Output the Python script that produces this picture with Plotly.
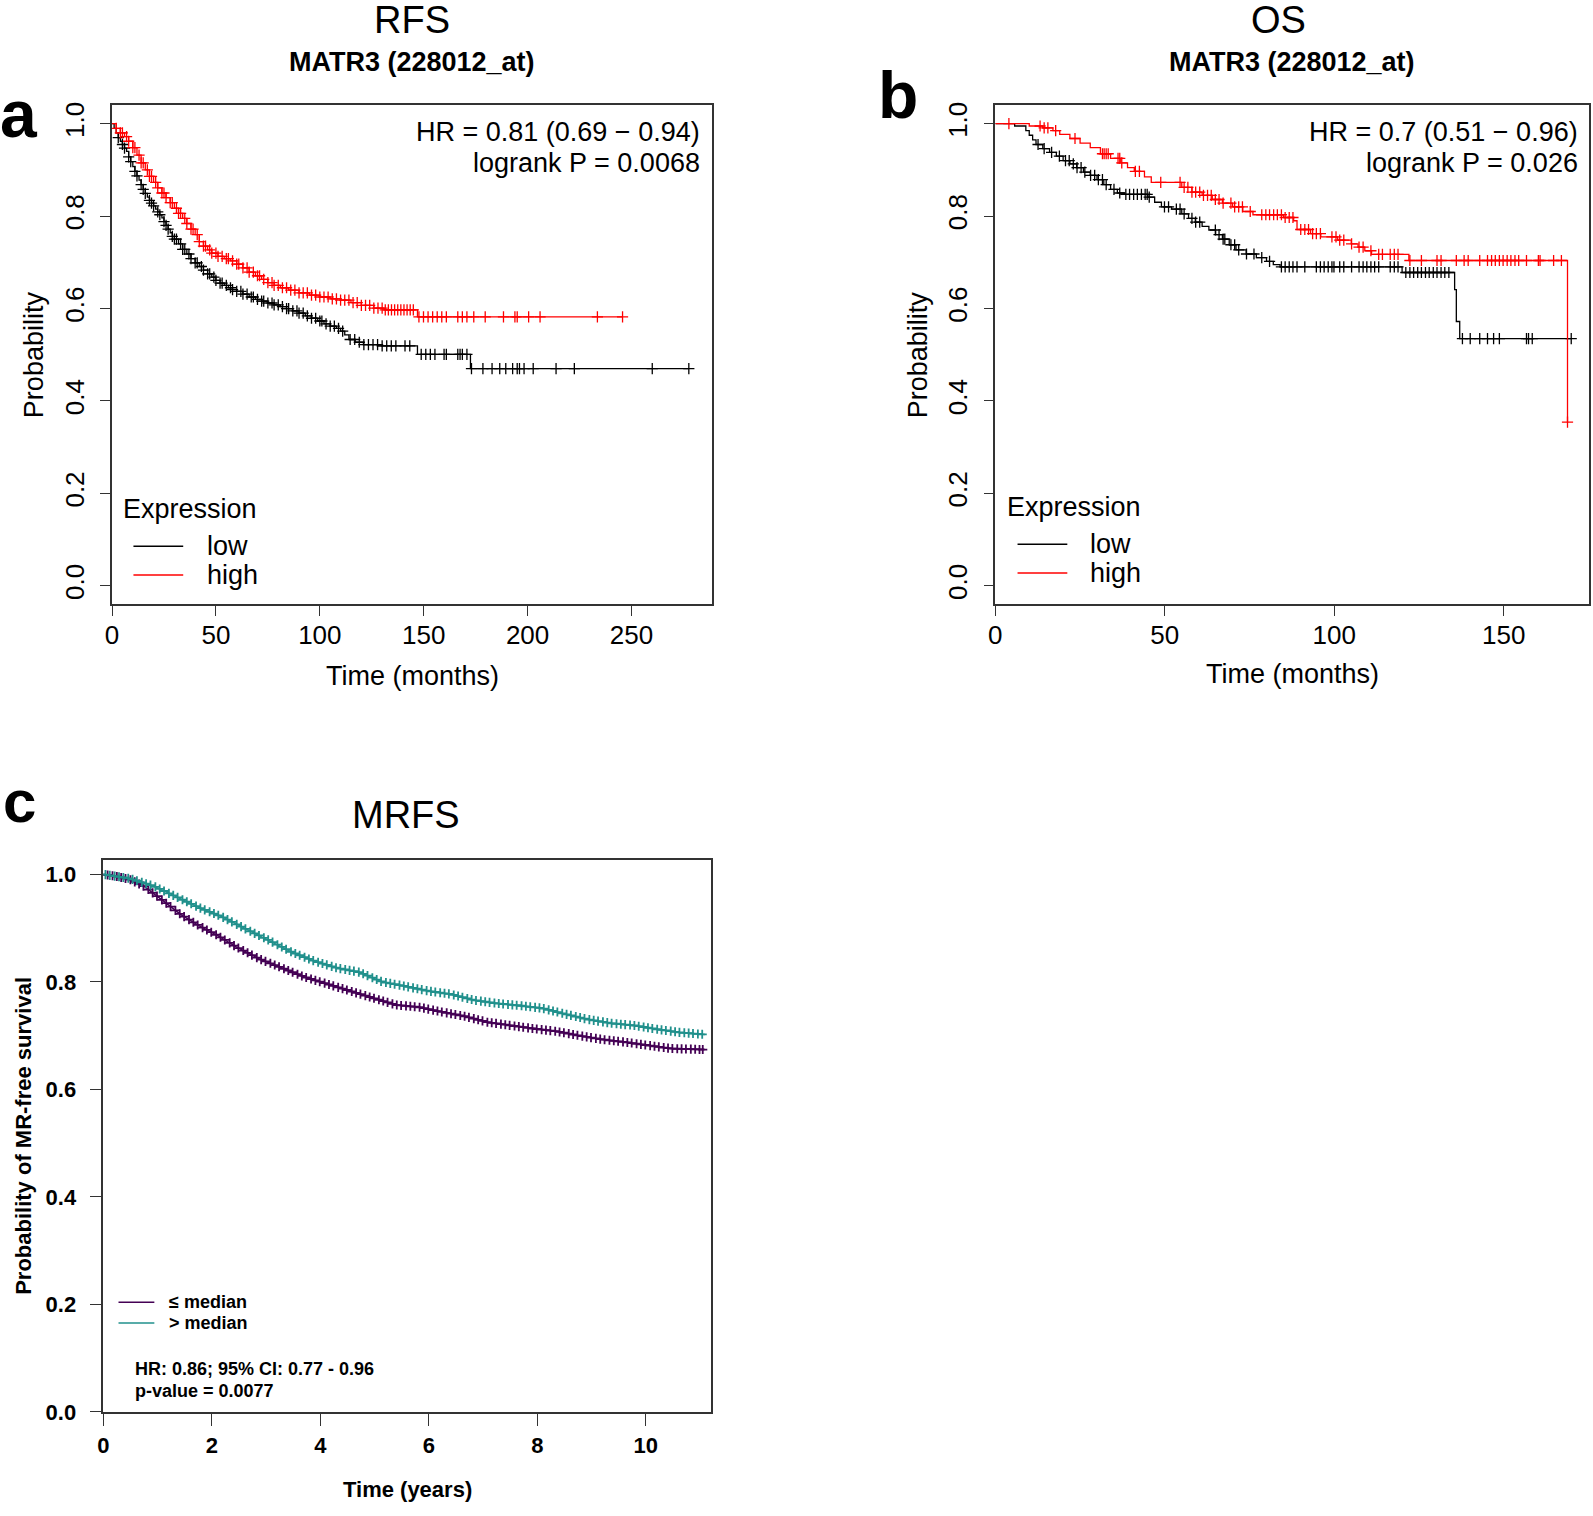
import numpy as np
import plotly.graph_objects as go

W, H = 1593, 1516
FONT = "Liberation Sans, Arial, sans-serif"

# ---------------- Panel a : RFS (months) ----------------
a_low_t = [0, 1, 2, 3, 4, 5, 6, 7, 8, 9, 10, 11, 12, 13, 14, 15, 16, 17, 18, 19, 20, 21, 22, 23, 24, 25, 26, 27, 28, 29,
           30, 32, 34, 36, 38, 40, 42, 44, 46, 48, 50, 52, 54, 56, 58, 60, 63, 66, 69, 72, 75, 78, 81, 84, 87, 90, 93,
           96, 99, 102, 105, 108, 110, 112, 114, 117, 121, 128, 147, 172.5, 277.6]
a_low_s = [1.0, 0.99, 0.98, 0.97, 0.962, 0.955, 0.947, 0.94, 0.928, 0.918, 0.907, 0.897, 0.887, 0.878, 0.868, 0.858,
           0.849, 0.841, 0.834, 0.828, 0.822, 0.815, 0.809, 0.803, 0.796, 0.788, 0.78, 0.772, 0.764, 0.756, 0.75, 0.74,
           0.728, 0.718, 0.708, 0.699, 0.691, 0.683, 0.675, 0.668, 0.661, 0.655, 0.65, 0.645, 0.641, 0.637, 0.631, 0.625,
           0.62, 0.616, 0.612, 0.608, 0.604, 0.6, 0.595, 0.59, 0.584, 0.579, 0.573, 0.567, 0.562, 0.557, 0.551, 0.543,
           0.533, 0.527, 0.522, 0.519, 0.501, 0.47, 0.47]
a_low_cens = [3, 5, 6, 8, 9, 11, 12, 14, 15, 16, 18, 19, 20, 22, 23, 25, 26, 27, 29, 30, 31, 33, 34, 35, 37, 38, 40, 41,
              43, 44, 46, 47, 49, 50, 52, 53, 55, 57, 58, 60, 62, 63, 65, 67, 68, 70, 72, 73, 75, 77, 78, 80, 82, 84, 85,
              87, 89, 90, 92, 94, 96, 98, 100, 101, 103, 105, 107, 109, 111, 114.6, 116.8, 119, 121.2, 123.4, 125.6,
              127.8, 130, 132.2, 134.4, 136.6, 141, 143.3, 148.8, 151, 153.2, 155.4, 159.8, 160.9, 166.4, 167.5, 168.6,
              170.8, 173, 178.5, 182.9, 186.6, 189.5, 192.8, 195, 196.1, 198.3, 202.7, 213.7, 222.5, 260, 277.6]

a_high_t = [0, 2, 4, 6, 8, 10, 12, 14, 16, 18, 20, 22, 24, 26, 28, 30, 32, 34, 36, 38, 40, 42, 44, 46, 48, 51, 54, 57,
            60, 63, 66, 69, 72, 75, 78, 81, 85, 90, 95, 100, 105, 110, 115, 120, 126, 131, 147, 245.7]
a_high_s = [1.0, 0.99, 0.98, 0.972, 0.962, 0.948, 0.932, 0.915, 0.9, 0.886, 0.873, 0.861, 0.85, 0.84, 0.829, 0.817,
            0.806, 0.795, 0.784, 0.772, 0.76, 0.745, 0.735, 0.727, 0.72, 0.713, 0.708, 0.703, 0.696, 0.688, 0.679, 0.671,
            0.663, 0.656, 0.65, 0.645, 0.64, 0.634, 0.629, 0.625, 0.621, 0.618, 0.613, 0.607, 0.601, 0.597, 0.582, 0.582]
a_high_cens = [2, 4, 5, 7, 8, 10, 11, 13, 14, 15, 17, 18, 19, 21, 22, 24, 25, 26, 28, 29, 31, 32, 33, 35, 36, 38, 39,
               41, 42, 44, 45, 47, 48, 50, 51, 53, 55, 56, 58, 60, 61, 63, 65, 66, 68, 70, 71, 73, 75, 77, 78, 80, 82,
               84, 86, 88, 90, 92, 94, 96, 98, 100, 102, 104, 106, 108, 110, 112, 114, 116, 118, 120, 122, 124, 126,
               128, 130, 131.5, 133, 134.5, 136, 137.5, 139, 140.5, 142, 143.5, 145, 147.7, 149.9, 152.1, 154.3, 156.5,
               158.7, 160.9, 166.4, 168.6, 170.8, 174.1, 179.6, 188.4, 193.9, 195, 200.5, 206, 233.6, 245.7]

# ---------------- Panel b : OS (months) ----------------
b_low_t = [0, 5.7, 9, 10, 11, 12, 14, 16, 18, 20, 22, 24, 26, 28, 30, 32, 34, 36, 38, 45, 47, 49, 52, 55, 57, 59, 61,
           63, 65, 67, 69, 71, 74, 77, 80, 82, 84, 120, 135.5, 136, 137, 169.9]
b_low_s = [1.0, 0.995, 0.985, 0.975, 0.965, 0.955, 0.946, 0.938, 0.93, 0.92, 0.913, 0.905, 0.895, 0.888, 0.879, 0.868,
           0.858, 0.85, 0.847, 0.841, 0.83, 0.82, 0.815, 0.805, 0.795, 0.787, 0.778, 0.77, 0.76, 0.75, 0.738, 0.727,
           0.718, 0.71, 0.702, 0.695, 0.69, 0.678, 0.641, 0.572, 0.535, 0.535]
b_low_cens = [12.6, 14.4, 16.6, 18.9, 20.7, 21.8, 23, 24.1, 25.3, 26.4, 28.1, 29.3, 30.4, 31.6, 32.7, 35, 36.7, 38.5,
              39.6, 40.8, 41.9, 43.1, 44.2, 44.8, 45.4, 49.9, 51.1, 53.4, 54.5, 55.7, 58, 59.1, 60.3, 64.9, 66, 67.2,
              67.7, 69.5, 70.6, 71.8, 74.1, 76.3, 78.6, 80.9, 84.4, 85.5, 86.7, 87.8, 89, 91.3, 94.7, 95.9, 97, 98.2,
              99.3, 99.9, 101.6, 102.8, 105.1, 107.3, 108.5, 109.6, 110.8, 111.9, 113.1, 116.5, 117.7, 118.8, 121.1,
              122.3, 123.4, 124.6, 125.7, 126.9, 128, 129.2, 130.3, 131.5, 132.6, 133.8, 137.8, 140.1, 142.9, 145.2,
              147, 148.7, 156.7, 157.3, 158.4, 169.9]

b_high_t = [0, 10, 14, 17, 19, 22, 25, 28, 31, 34, 37, 39, 41, 44, 46, 55, 58, 61, 64, 67, 70, 73, 76, 85, 88, 89, 93,
            96, 101, 105, 107, 109, 111, 122, 168.8, 168.8]
b_high_s = [1.0, 0.995, 0.991, 0.985, 0.977, 0.968, 0.958, 0.948, 0.935, 0.925, 0.915, 0.905, 0.897, 0.885, 0.873,
            0.862, 0.852, 0.845, 0.836, 0.828, 0.82, 0.81, 0.803, 0.797, 0.79, 0.771, 0.762, 0.755, 0.748, 0.74, 0.733,
            0.725, 0.717, 0.704, 0.704, 0.354]
b_high_cens = [4, 13.2, 14.4, 15.5, 17.8, 23.5, 31.6, 32.1, 32.7, 33.3, 36.2, 36.7, 37.3, 41.3, 42.5, 48.8, 54.5, 55.7,
               56.8, 58, 59.1, 60.3, 61.4, 62.6, 63.7, 64.9, 66, 67.2, 69.5, 70.6, 71.8, 72.9, 75.2, 78.6, 79.8, 80.9,
               82.1, 83.2, 84.4, 85.5, 86.7, 87.8, 90.1, 91.3, 92.4, 93.6, 94.7, 95.9, 99.3, 100.5, 101.6, 102.8, 105.1,
               107.3, 108.5, 110.8, 113.1, 114.2, 116.5, 117.7, 118.8, 122.3, 125.7, 130.3, 131.5, 136, 138.3, 139.5,
               142.9, 145.2, 146.4, 147.5, 148.7, 149.8, 151, 152.1, 153.3, 154.4, 156.7, 160.2, 160.7, 164.7, 167]
b_high_end_mark = [168.8]

# ---------------- Panel c : MRFS (years) ----------------
c_low_t = [0, 0.25, 0.5, 0.76, 1.1, 1.43, 1.77, 2.11, 2.45, 2.87, 3.29, 3.71, 4.13, 4.55, 4.97, 5.4, 5.82, 6.24, 6.66,
           7.08, 7.5, 7.93, 8.35, 8.77, 9.19, 9.61, 10.03, 10.46, 11.09]
c_low_s = [1.0, 0.996, 0.99, 0.977, 0.951, 0.925, 0.904, 0.886, 0.865, 0.843, 0.826, 0.809, 0.796, 0.783, 0.77, 0.757,
           0.753, 0.744, 0.736, 0.725, 0.719, 0.713, 0.708, 0.7, 0.693, 0.688, 0.682, 0.676, 0.674]
c_high_t = [0, 0.5, 0.93, 1.35, 1.77, 2.19, 2.61, 3.04, 3.46, 3.88, 4.3, 4.72, 5.14, 5.56, 5.99, 6.41, 6.83, 7.25, 7.67,
            8.09, 8.52, 8.94, 9.36, 9.78, 10.2, 10.62, 11.09]
c_high_s = [1.0, 0.992, 0.978, 0.958, 0.938, 0.921, 0.899, 0.878, 0.856, 0.839, 0.826, 0.818, 0.8, 0.792, 0.783, 0.777,
            0.766, 0.76, 0.756, 0.751, 0.74, 0.73, 0.723, 0.719, 0.712, 0.706, 0.702]
c_low_cens = [0.08, 0.17, 0.25, 0.33, 0.41, 0.5, 0.58, 0.66, 0.74, 0.83, 0.91, 0.99, 1.08, 1.16, 1.24, 1.33, 1.41, 1.49,
              1.58, 1.66, 1.74, 1.83, 1.91, 1.99, 2.08, 2.16, 2.24, 2.33, 2.41, 2.49, 2.58, 2.66, 2.74, 2.83, 2.91, 2.99,
              3.08, 3.16, 3.24, 3.33, 3.41, 3.49, 3.58, 3.66, 3.74, 3.83, 3.91, 3.99, 4.08, 4.16, 4.24, 4.33, 4.41, 4.49,
              4.58, 4.66, 4.74, 4.83, 4.91, 4.99, 5.08, 5.16, 5.24, 5.33, 5.41, 5.49, 5.58, 5.66, 5.74, 5.83, 5.91, 5.99,
              6.08, 6.16, 6.24, 6.33, 6.41, 6.49, 6.58, 6.66, 6.74, 6.83, 6.91, 6.99, 7.08, 7.16, 7.24, 7.33, 7.41, 7.49,
              7.58, 7.66, 7.74, 7.83, 7.91, 7.99, 8.08, 8.16, 8.24, 8.33, 8.41, 8.49, 8.58, 8.66, 8.74, 8.83, 8.91, 8.99,
              9.08, 9.16, 9.24, 9.33, 9.41, 9.49, 9.58, 9.66, 9.74, 9.83, 9.91, 9.99, 10.08, 10.16, 10.24, 10.33, 10.41,
              10.49, 10.58, 10.66, 10.74, 10.83, 10.91, 10.99, 11.05]
c_high_cens = [0.04, 0.12, 0.21, 0.29, 0.37, 0.46, 0.54, 0.62, 0.71, 0.79, 0.87, 0.96, 1.04, 1.12, 1.21, 1.29, 1.37,
               1.46, 1.54, 1.62, 1.71, 1.79, 1.87, 1.96, 2.04, 2.12, 2.21, 2.29, 2.37, 2.46, 2.54, 2.62, 2.71, 2.79,
               2.87, 2.96, 3.04, 3.12, 3.21, 3.29, 3.37, 3.46, 3.54, 3.62, 3.71, 3.79, 3.87, 3.96, 4.04, 4.12, 4.21,
               4.29, 4.37, 4.46, 4.54, 4.62, 4.71, 4.79, 4.87, 4.96, 5.04, 5.12, 5.21, 5.29, 5.37, 5.46, 5.54, 5.62,
               5.71, 5.79, 5.87, 5.96, 6.04, 6.12, 6.21, 6.29, 6.37, 6.46, 6.54, 6.62, 6.71, 6.79, 6.87, 6.96, 7.04,
               7.12, 7.21, 7.29, 7.37, 7.46, 7.54, 7.62, 7.71, 7.79, 7.87, 7.96, 8.04, 8.12, 8.21, 8.29, 8.37, 8.46,
               8.54, 8.62, 8.71, 8.79, 8.87, 8.96, 9.04, 9.12, 9.21, 9.29, 9.37, 9.46, 9.54, 9.62, 9.71, 9.79, 9.87,
               9.96, 10.04, 10.12, 10.21, 10.29, 10.37, 10.46, 10.54, 10.62, 10.71, 10.79, 10.87, 10.96, 11.04]

y_ticks = [0.0, 0.2, 0.4, 0.6, 0.8, 1.0]
a_x_ticks = [0, 50, 100, 150, 200, 250]
b_x_ticks = [0, 50, 100, 150]
c_x_ticks = [0, 2, 4, 6, 8, 10]

RED, BLACK = "#FF0000", "#000000"
PURPLE, TEAL = "#440154", "#21908C"


def step_at(ts, ss, q):
    ts = np.asarray(ts, float)
    ss = np.asarray(ss, float)
    idx = np.searchsorted(ts, np.asarray(q, float), side="right") - 1
    return ss[np.clip(idx, 0, len(ss) - 1)]


def px(x):
    return x / W


def py(y):
    return 1 - y / H


fig = go.Figure()


def add_km(t, s, cens, color, xa, ya, shape="hv", msize=8, lw=1.3, mlw=1.3):
    fig.add_trace(go.Scatter(x=t, y=s, mode="lines", line=dict(color=color, width=lw, shape=shape),
                             xaxis=xa, yaxis=ya, showlegend=False, hoverinfo="skip"))
    if shape == "hv":
        cens_y = step_at(t, s, cens)
    else:
        cens_y = np.interp(cens, t, s)
    fig.add_trace(go.Scatter(x=cens, y=cens_y, mode="markers",
                             marker=dict(symbol="cross-thin", size=msize, color=color,
                                         line=dict(width=mlw, color=color)),
                             xaxis=xa, yaxis=ya, showlegend=False, hoverinfo="skip"))


# panel a
add_km(a_low_t, a_low_s, a_low_cens, BLACK, "x", "y")
add_km(a_high_t, a_high_s, a_high_cens, RED, "x", "y")
# panel b
add_km(b_low_t, b_low_s, b_low_cens, BLACK, "x2", "y2")
add_km(b_high_t, b_high_s, b_high_cens, RED, "x2", "y2")
fig.add_trace(go.Scatter(x=b_high_end_mark, y=[b_high_s[-1]], mode="markers",
                         marker=dict(symbol="cross-thin", size=8, color=RED, line=dict(width=1.3, color=RED)),
                         xaxis="x2", yaxis="y2", showlegend=False, hoverinfo="skip"))
# panel c
add_km(c_low_t, c_low_s, c_low_cens, PURPLE, "x3", "y3", shape="linear", msize=6.5, lw=1.5, mlw=1.8)
add_km(c_high_t, c_high_s, c_high_cens, TEAL, "x3", "y3", shape="linear", msize=6.5, lw=1.5, mlw=1.8)

BOX = "#333333"


def xaxis(dom, rng, ticks, size, anchor, bold=False, standoff=0, ticklen=10):
    return dict(domain=dom, range=rng, anchor=anchor, tickvals=ticks, ticktext=[str(v) for v in ticks],
                ticks="outside", ticklen=ticklen, tickwidth=1.3, tickcolor=BOX, showline=True, linecolor=BOX,
                linewidth=1.5, mirror=True, showgrid=False, zeroline=False,
                tickfont=dict(family=FONT, size=size, color="#000", weight="bold" if bold else "normal"),
                ticklabelstandoff=standoff, fixedrange=True)


def yaxis(dom, rng, size, angle, anchor, bold=False, standoff=0, ticklen=10):
    return dict(domain=dom, range=rng, anchor=anchor, tickvals=y_ticks, ticktext=["%.1f" % v for v in y_ticks],
                ticks="outside", ticklen=ticklen, tickwidth=1.3, tickcolor=BOX, showline=True, linecolor=BOX,
                linewidth=1.5, mirror=True, showgrid=False, zeroline=False, tickangle=angle,
                tickfont=dict(family=FONT, size=size, color="#000", weight="bold" if bold else "normal"),
                ticklabelstandoff=standoff, fixedrange=True)


# box pixel positions
aL, aR, aT, aB = 105.5, 708, 103.3, 607.7
bL, bR, bT, bB = 992.7, 1588.5, 103.3, 607.7
cL, cR, cT, cB = 96.7, 707, 866.5, 1424

fig.update_layout(
    width=W, height=H, margin=dict(l=0, r=0, t=0, b=0), autosize=False,
    paper_bgcolor="white", plot_bgcolor="white",
    xaxis=xaxis([px(aL), px(aR)], [0, 288.7], a_x_ticks, 26, "y", standoff=-3),
    yaxis=yaxis([py(aB), py(aT)], [-0.04, 1.04], 26, -90, "x", standoff=6),
    xaxis2=xaxis([px(bL), px(bR)], [0, 175], b_x_ticks, 26, "y2", standoff=-3),
    yaxis2=yaxis([py(bB), py(bT)], [-0.04, 1.04], 26, -90, "x2", standoff=6),
    xaxis3=xaxis([px(cL), px(cR)], [0, 11.2], c_x_ticks, 22, "y3", bold=True, standoff=1, ticklen=12),
    yaxis3=yaxis([py(cB), py(cT)], [0, 1.026], 22, 0, "x3", bold=True, standoff=9, ticklen=12),
)

ann = []


def text(x, y, s, size, xanchor="center", bold=False, angle=0, color="#000"):
    ann.append(dict(x=px(x), y=py(y), xref="paper", yref="paper", text=("<b>%s</b>" % s) if bold else s,
                    showarrow=False, xanchor=xanchor, yanchor="middle", textangle=angle,
                    font=dict(family=FONT, size=size, color=color)))


shapes = []


def seg(x0, x1, y, color, w=1.5):
    shapes.append(dict(type="line", xref="paper", yref="paper", x0=px(x0), x1=px(x1), y0=py(y), y1=py(y),
                       line=dict(color=color, width=w)))


# panel a texts
text(12, 112, "a", 66, bold=True)
text(407, 17, "RFS", 38)
text(407, 60, "MATR3 (228012_at)", 27, bold=True)
text(698, 130, "HR = 0.81 (0.69 − 0.94)", 27, xanchor="right")
text(698, 162, "logrank P = 0.0068", 27, xanchor="right")
text(115, 511, "Expression", 27, xanchor="left")
seg(127, 177, 549, BLACK)
text(199, 549, "low", 27, xanchor="left")
seg(127, 177, 578, RED)
text(199, 578, "high", 27, xanchor="left")
text(407, 680, "Time (months)", 27)
text(27, 355, "Probability", 27, angle=-90)

# panel b texts
text(895, 93, "b", 66, bold=True)
text(1277, 17, "OS", 38)
text(1291, 60, "MATR3 (228012_at)", 27, bold=True)
text(1580, 130, "HR = 0.7 (0.51 − 0.96)", 27, xanchor="right")
text(1580, 162, "logrank P = 0.026", 27, xanchor="right")
text(1002, 509, "Expression", 27, xanchor="left")
seg(1015, 1065, 547, BLACK)
text(1086, 547, "low", 27, xanchor="left")
seg(1015, 1065, 576, RED)
text(1086, 576, "high", 27, xanchor="left")
text(1291, 678, "Time (months)", 27)
text(915, 355, "Probability", 27, angle=-90)

# panel c texts
text(13, 807, "c", 60, bold=True)
text(401, 821, "MRFS", 38)
seg(112, 148, 1313, PURPLE)
text(161, 1313, "≤ median", 18, xanchor="left", bold=True)
seg(112, 148, 1334, TEAL)
text(161, 1334, "> median", 18, xanchor="left", bold=True)
text(127, 1381, "HR: 0.86; 95% CI: 0.77 - 0.96", 18, xanchor="left", bold=True)
text(127, 1403, "p-value = 0.0077", 18, xanchor="left", bold=True)
text(402, 1502, "Time (years)", 22, bold=True)
text(17, 1145, "Probability of MR-free survival", 22, bold=True, angle=-90)

fig.update_layout(annotations=ann, shapes=shapes)
fig.write_html("out.html", config={"displayModeBar": False},
               post_script="document.body.style.margin='0';document.body.style.overflow='hidden';")
